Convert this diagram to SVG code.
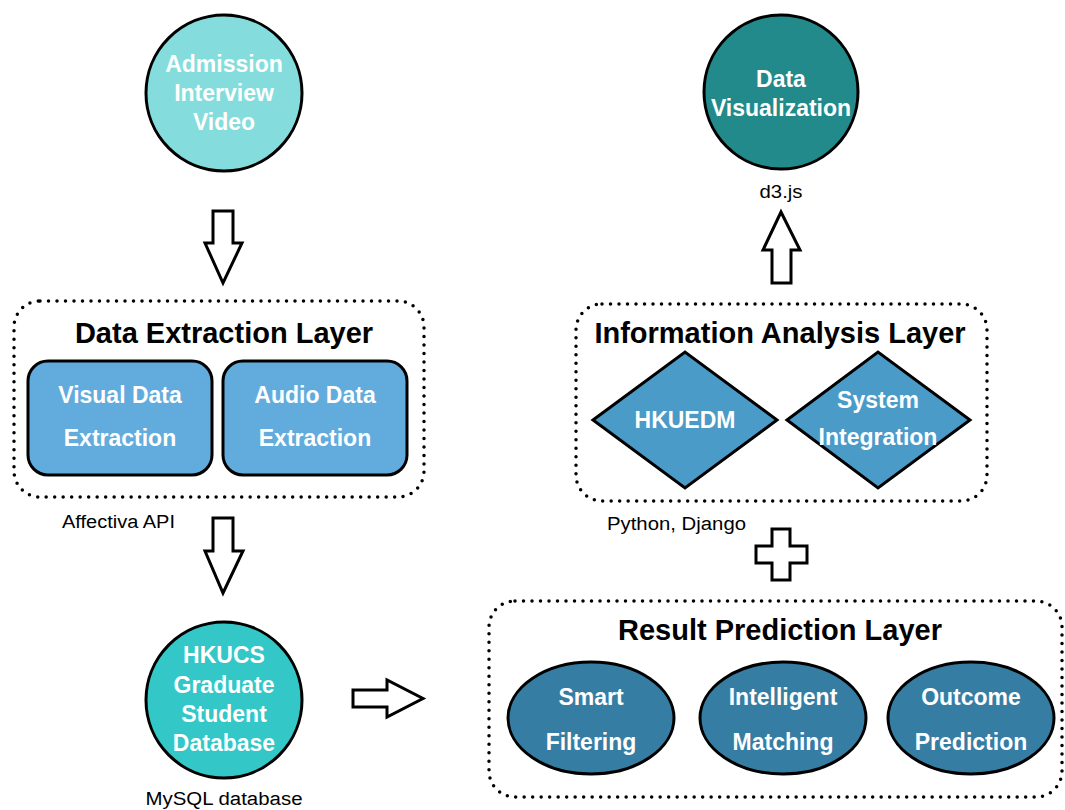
<svg xmlns="http://www.w3.org/2000/svg" width="1065" height="810" viewBox="0 0 1065 810">
<style>
.node{stroke:#000;stroke-width:3}
.lbl{font-family:"Liberation Sans",Arial,sans-serif;font-weight:bold;font-size:23px;fill:#fff;text-anchor:middle}
.ttl{font-family:"Liberation Sans",Arial,sans-serif;font-weight:bold;font-size:29px;fill:#000;text-anchor:middle}
.note{font-family:"Liberation Sans",Arial,sans-serif;font-size:18px;fill:#000}
.layer{fill:none;stroke:#000;stroke-width:3.5;stroke-dasharray:0 8.5;stroke-linecap:round}
.arrow{fill:#fff;stroke:#000;stroke-width:3;stroke-linejoin:miter}
</style>
<rect width="1065" height="810" fill="#fff"/>

<g id="layer-extraction">
<rect class="layer" x="14" y="301" width="410" height="196" rx="26"/>
<text class="ttl" x="224" y="343">Data Extraction Layer</text>
</g>
<g id="layer-analysis">
<rect class="layer" x="576" y="304" width="411" height="197" rx="26"/>
<text class="ttl" x="780" y="343">Information Analysis Layer</text>
</g>
<g id="layer-prediction">
<rect class="layer" x="489" y="601" width="573" height="196" rx="26"/>
<text class="ttl" x="780" y="640">Result Prediction Layer</text>
</g>

<g id="admission-video">
<circle class="node" cx="224" cy="93" r="78" fill="#84DDDC"/>
<text class="lbl" x="224" y="72">Admission</text>
<text class="lbl" x="224" y="101">Interview</text>
<text class="lbl" x="224" y="130">Video</text>
</g>

<g id="visual-extraction">
<rect class="node" x="28" y="361" width="184" height="114" rx="20" fill="#62ACDD"/>
<text class="lbl" x="120" y="403">Visual Data</text>
<text class="lbl" x="120" y="446">Extraction</text>
</g>
<g id="audio-extraction">
<rect class="node" x="223" y="361" width="184" height="114" rx="20" fill="#62ACDD"/>
<text class="lbl" x="315" y="403">Audio Data</text>
<text class="lbl" x="315" y="446">Extraction</text>
</g>
<text class="note" x="62" y="528" textLength="113" lengthAdjust="spacingAndGlyphs">Affectiva API</text>

<g id="hkucs-database">
<circle class="node" cx="224" cy="700" r="78" fill="#33C7C7"/>
<text class="lbl" x="224" y="663">HKUCS</text>
<text class="lbl" x="224" y="693">Graduate</text>
<text class="lbl" x="224" y="722">Student</text>
<text class="lbl" x="224" y="751">Database</text>
</g>
<text class="note" x="224" y="805" text-anchor="middle" textLength="157" lengthAdjust="spacingAndGlyphs">MySQL database</text>

<g id="hkuedm">
<polygon class="node" points="593,420 685,352 777,420 685,488" fill="#4A9BC8"/>
<text class="lbl" x="685" y="428">HKUEDM</text>
</g>
<g id="system-integration">
<polygon class="node" points="787,420 878,352 970,420 878,488" fill="#4A9BC8"/>
<text class="lbl" x="878" y="408">System</text>
<text class="lbl" x="878" y="445">Integration</text>
</g>
<text class="note" x="607" y="530" textLength="139" lengthAdjust="spacingAndGlyphs">Python, Django</text>

<g id="data-visualization">
<circle class="node" cx="781" cy="92" r="77" fill="#228A8A"/>
<text class="lbl" x="781" y="87">Data</text>
<text class="lbl" x="781" y="116">Visualization</text>
</g>
<text class="note" x="781" y="198" text-anchor="middle" textLength="43" lengthAdjust="spacingAndGlyphs">d3.js</text>

<g id="smart-filtering">
<ellipse class="node" cx="591" cy="718" rx="83" ry="56" fill="#367DA3"/>
<text class="lbl" x="591" y="705">Smart</text>
<text class="lbl" x="591" y="750">Filtering</text>
</g>
<g id="intelligent-matching">
<ellipse class="node" cx="783" cy="718" rx="83" ry="56" fill="#367DA3"/>
<text class="lbl" x="783" y="705">Intelligent</text>
<text class="lbl" x="783" y="750">Matching</text>
</g>
<g id="outcome-prediction">
<ellipse class="node" cx="971" cy="718" rx="83" ry="56" fill="#367DA3"/>
<text class="lbl" x="971" y="705">Outcome</text>
<text class="lbl" x="971" y="750">Prediction</text>
</g>

<g id="connectors">
<polygon class="arrow" points="213,211 233,211 233,243 242,243 223,283 205,243 213,243"/>
<polygon class="arrow" points="213,518 233,518 233,551 243,551 223,593 205,551 213,551"/>
<polygon class="arrow" points="353,690 387,690 387,680 423,698.5 387,717 387,707 353,707"/>
<polygon class="arrow" points="772,283 791,283 791,250 800,250 781,212 763,250 772,250"/>
<polygon class="arrow" points="772,529 790,529 790,546 807,546 807,563 790,563 790,580 772,580 772,563 756,563 756,546 772,546"/>
</g>
</svg>
